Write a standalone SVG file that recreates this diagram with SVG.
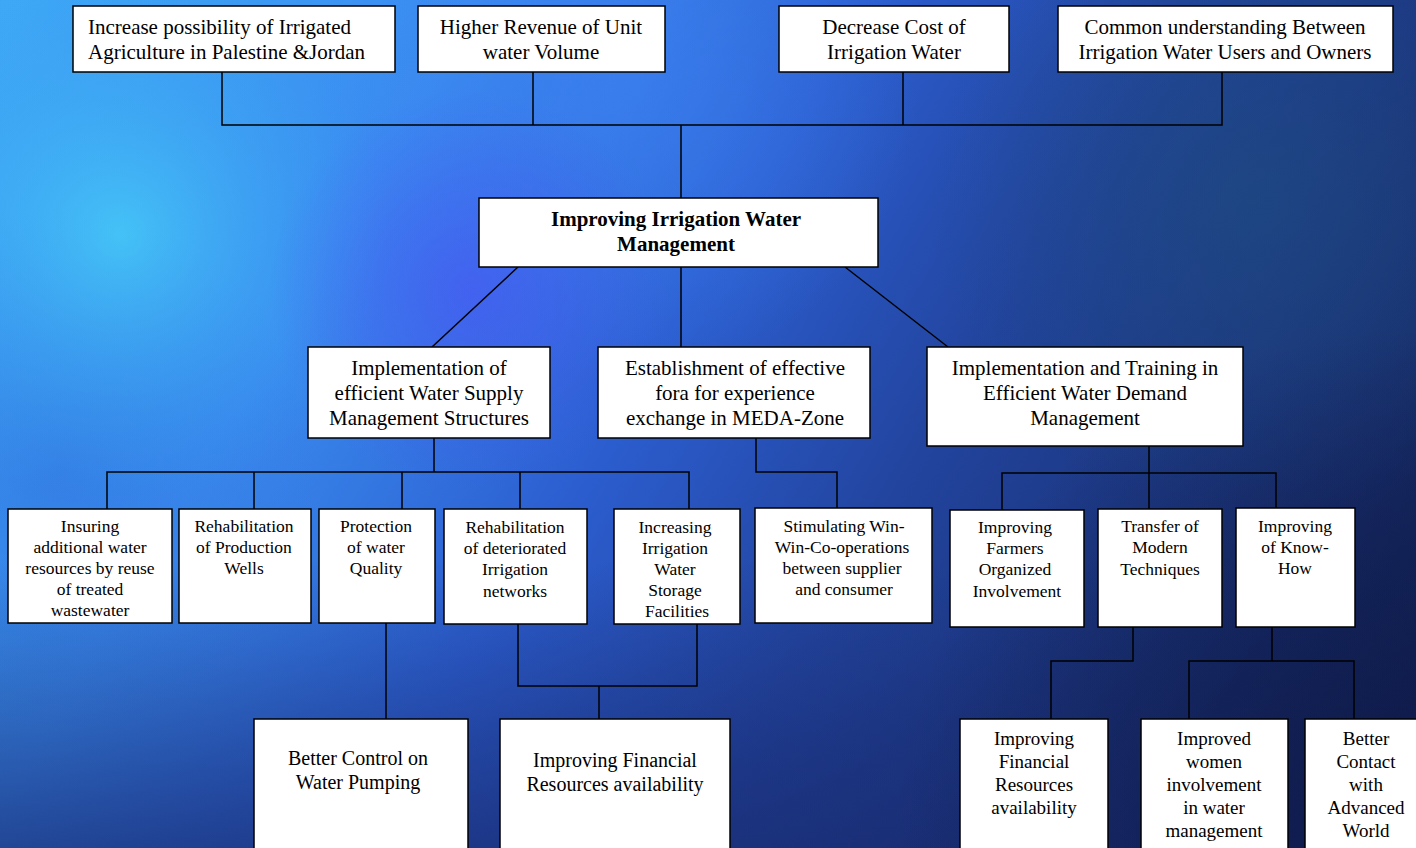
<svg xmlns="http://www.w3.org/2000/svg" width="1416" height="848" viewBox="0 0 1416 848">
<defs>
<linearGradient id="bgbase" x1="0" y1="0" x2="1416" y2="848" gradientUnits="userSpaceOnUse">
<stop offset="0" stop-color="#3ea8f6"/>
<stop offset="0.25" stop-color="#3a8cf0"/>
<stop offset="0.45" stop-color="#2c5ed0"/>
<stop offset="0.62" stop-color="#22449e"/>
<stop offset="0.8" stop-color="#1a3276"/>
<stop offset="1" stop-color="#101c4a"/>
</linearGradient>
<radialGradient id="cyan" cx="120" cy="235" r="270" gradientUnits="userSpaceOnUse">
<stop offset="0" stop-color="#48d4f8" stop-opacity="0.7"/>
<stop offset="0.5" stop-color="#40b4f4" stop-opacity="0.4"/>
<stop offset="1" stop-color="#3aa0f0" stop-opacity="0"/>
</radialGradient>
<radialGradient id="violet" cx="470" cy="290" r="200" gradientUnits="userSpaceOnUse">
<stop offset="0" stop-color="#4858f4" stop-opacity="0.7"/>
<stop offset="1" stop-color="#4858f4" stop-opacity="0"/>
</radialGradient>
<radialGradient id="topblue" cx="620" cy="80" r="300" gradientUnits="userSpaceOnUse">
<stop offset="0" stop-color="#3c80f2" stop-opacity="0.7"/>
<stop offset="1" stop-color="#3c80f2" stop-opacity="0"/>
</radialGradient>
<radialGradient id="leftmid" cx="60" cy="470" r="260" gradientUnits="userSpaceOnUse">
<stop offset="0" stop-color="#2f70dc" stop-opacity="0.6"/>
<stop offset="1" stop-color="#2f70dc" stop-opacity="0"/>
</radialGradient>
<radialGradient id="dark" cx="1416" cy="848" r="520" gradientUnits="userSpaceOnUse">
<stop offset="0" stop-color="#0c1640" stop-opacity="0.8"/>
<stop offset="1" stop-color="#0c1640" stop-opacity="0"/>
</radialGradient>
<radialGradient id="teal" cx="1250" cy="200" r="320" gradientUnits="userSpaceOnUse">
<stop offset="0" stop-color="#1e4a80" stop-opacity="0.7"/>
<stop offset="1" stop-color="#1e4a80" stop-opacity="0"/>
</radialGradient>
<linearGradient id="bottom" x1="0" y1="560" x2="0" y2="848" gradientUnits="userSpaceOnUse">
<stop offset="0" stop-color="#182a70" stop-opacity="0"/>
<stop offset="1" stop-color="#182a70" stop-opacity="0.7"/>
</linearGradient>
</defs>
<style>
.box{fill:#ffffff;stroke:#000000;stroke-width:1.5}
.t{font-family:"Liberation Serif","Times New Roman",serif;fill:#000000}
.t21{font-size:21px}
.t20{font-size:20px}
.t19{font-size:19px}
.t18{font-size:17.5px}
.b{font-weight:bold}
.c{text-anchor:middle}
.ln{fill:none;stroke:#000000;stroke-width:1.5}
</style>
<g id="background">
<rect x="0" y="0" width="1416" height="848" fill="url(#bgbase)"/>
<rect x="0" y="0" width="1416" height="848" fill="url(#topblue)"/>
<rect x="0" y="0" width="1416" height="848" fill="url(#leftmid)"/>
<rect x="0" y="0" width="1416" height="848" fill="url(#cyan)"/>
<rect x="0" y="0" width="1416" height="848" fill="url(#violet)"/>
<rect x="0" y="0" width="1416" height="848" fill="url(#teal)"/>
<rect x="0" y="0" width="1416" height="848" fill="url(#bottom)"/>
<rect x="0" y="0" width="1416" height="848" fill="url(#dark)"/>
</g>
<g id="connectors">
<polyline class="ln" points="222,72 222,125 1222,125 1222,72"/>
<line class="ln" x1="533" y1="72" x2="533" y2="125"/>
<line class="ln" x1="903" y1="72" x2="903" y2="125"/>
<line class="ln" x1="681" y1="125" x2="681" y2="198"/>
<line class="ln" x1="518" y1="267" x2="432" y2="347"/>
<line class="ln" x1="681" y1="267" x2="681" y2="347"/>
<line class="ln" x1="845" y1="267" x2="948" y2="347"/>
<line class="ln" x1="434" y1="438" x2="434" y2="472"/>
<polyline class="ln" points="107,509 107,472 689,472 689,509"/>
<line class="ln" x1="254" y1="472" x2="254" y2="509"/>
<line class="ln" x1="402" y1="472" x2="402" y2="509"/>
<line class="ln" x1="520" y1="472" x2="520" y2="509"/>
<polyline class="ln" points="756,438 756,472 837,472 837,508"/>
<line class="ln" x1="1149" y1="446" x2="1149" y2="473"/>
<polyline class="ln" points="1002,510 1002,473 1276,473 1276,508"/>
<line class="ln" x1="1149" y1="473" x2="1149" y2="509"/>
<line class="ln" x1="386" y1="623" x2="386" y2="719"/>
<polyline class="ln" points="518,624 518,686 697,686 697,624"/>
<line class="ln" x1="599" y1="686" x2="599" y2="719"/>
<polyline class="ln" points="1133,627 1133,661 1051,661 1051,719"/>
<line class="ln" x1="1272" y1="627" x2="1272" y2="661"/>
<polyline class="ln" points="1189,719 1189,661 1354,661 1354,719"/>
</g>
<g id="top1">
<rect class="box" x="73" y="6" width="322" height="66"/>
<text class="t t21" x="88" y="34">Increase possibility of Irrigated</text>
<text class="t t21" x="88" y="59">Agriculture in Palestine &amp;Jordan</text>
</g>
<g id="top2">
<rect class="box" x="418" y="6" width="247" height="66"/>
<text class="t t21 c" x="541" y="34">Higher Revenue of Unit</text>
<text class="t t21 c" x="541" y="59">water Volume</text>
</g>
<g id="top3">
<rect class="box" x="779" y="6" width="230" height="66"/>
<text class="t t21 c" x="894" y="34">Decrease Cost of</text>
<text class="t t21 c" x="894" y="59">Irrigation Water</text>
</g>
<g id="top4">
<rect class="box" x="1058" y="6" width="335" height="66"/>
<text class="t t21 c" x="1225" y="34">Common understanding Between</text>
<text class="t t21 c" x="1225" y="59">Irrigation Water Users and Owners</text>
</g>
<g id="center">
<rect class="box" x="479" y="198" width="399" height="69"/>
<text class="t t21 b c" x="676" y="226">Improving Irrigation Water</text>
<text class="t t21 b c" x="676" y="251">Management</text>
</g>
<g id="mid1">
<rect class="box" x="308" y="347" width="242" height="91"/>
<text class="t t21 c" x="429" y="375">Implementation of</text>
<text class="t t21 c" x="429" y="400">efficient Water Supply</text>
<text class="t t21 c" x="429" y="425">Management Structures</text>
</g>
<g id="mid2">
<rect class="box" x="598" y="347" width="272" height="91"/>
<text class="t t21 c" x="735" y="375">Establishment of effective</text>
<text class="t t21 c" x="735" y="400">fora for experience</text>
<text class="t t21 c" x="735" y="425">exchange in MEDA-Zone</text>
</g>
<g id="mid3">
<rect class="box" x="927" y="347" width="316" height="99"/>
<text class="t t21 c" x="1085" y="375">Implementation and Training in</text>
<text class="t t21 c" x="1085" y="400">Efficient Water Demand</text>
<text class="t t21 c" x="1085" y="425">Management</text>
</g>
<g id="s1">
<rect class="box" x="8" y="509" width="164" height="114"/>
<text class="t t18 c" x="90" y="532">Insuring</text>
<text class="t t18 c" x="90" y="553">additional water</text>
<text class="t t18 c" x="90" y="574">resources by reuse</text>
<text class="t t18 c" x="90" y="595">of treated</text>
<text class="t t18 c" x="90" y="616">wastewater</text>
</g>
<g id="s2">
<rect class="box" x="179" y="509" width="132" height="114"/>
<text class="t t18 c" x="244" y="532">Rehabilitation</text>
<text class="t t18 c" x="244" y="553">of Production</text>
<text class="t t18 c" x="244" y="574">Wells</text>
</g>
<g id="s3">
<rect class="box" x="319" y="509" width="116" height="114"/>
<text class="t t18 c" x="376" y="532">Protection</text>
<text class="t t18 c" x="376" y="553">of water</text>
<text class="t t18 c" x="376" y="574">Quality</text>
</g>
<g id="s4">
<rect class="box" x="444" y="509" width="143" height="115"/>
<text class="t t18 c" x="515" y="533">Rehabilitation</text>
<text class="t t18 c" x="515" y="554">of deteriorated</text>
<text class="t t18 c" x="515" y="575">Irrigation</text>
<text class="t t18 c" x="515" y="597">networks</text>
</g>
<g id="s5">
<rect class="box" x="614" y="509" width="126" height="115"/>
<text class="t t18 c" x="675" y="533">Increasing</text>
<text class="t t18 c" x="675" y="554">Irrigation</text>
<text class="t t18 c" x="675" y="575">Water</text>
<text class="t t18 c" x="675" y="596">Storage</text>
<text class="t t18 c" x="677" y="617">Facilities</text>
</g>
<g id="s6">
<rect class="box" x="755" y="508" width="177" height="115"/>
<text class="t t18 c" x="844" y="532">Stimulating Win-</text>
<text class="t t18 c" x="842" y="553">Win-Co-operations</text>
<text class="t t18 c" x="842" y="574">between supplier</text>
<text class="t t18 c" x="844" y="595">and consumer</text>
</g>
<g id="s7">
<rect class="box" x="950" y="510" width="134" height="117"/>
<text class="t t18 c" x="1015" y="533">Improving</text>
<text class="t t18 c" x="1015" y="554">Farmers</text>
<text class="t t18 c" x="1015" y="575">Organized</text>
<text class="t t18 c" x="1017" y="597">Involvement</text>
</g>
<g id="s8">
<rect class="box" x="1098" y="509" width="124" height="118"/>
<text class="t t18 c" x="1160" y="532">Transfer of</text>
<text class="t t18 c" x="1160" y="553">Modern</text>
<text class="t t18 c" x="1160" y="575">Techniques</text>
</g>
<g id="s9">
<rect class="box" x="1236" y="508" width="119" height="119"/>
<text class="t t18 c" x="1295" y="532">Improving</text>
<text class="t t18 c" x="1295" y="553">of Know-</text>
<text class="t t18 c" x="1295" y="574">How</text>
</g>
<g id="b1">
<rect class="box" x="254" y="719" width="214" height="150"/>
<text class="t t20 c" x="358" y="765">Better Control on</text>
<text class="t t20 c" x="358" y="789">Water Pumping</text>
</g>
<g id="b2">
<rect class="box" x="500" y="719" width="230" height="150"/>
<text class="t t20 c" x="615" y="767">Improving Financial</text>
<text class="t t20 c" x="615" y="791">Resources availability</text>
</g>
<g id="b3">
<rect class="box" x="960" y="719" width="148" height="150"/>
<text class="t t19 c" x="1034" y="745">Improving</text>
<text class="t t19 c" x="1034" y="768">Financial</text>
<text class="t t19 c" x="1034" y="791">Resources</text>
<text class="t t19 c" x="1034" y="814">availability</text>
</g>
<g id="b4">
<rect class="box" x="1141" y="719" width="147" height="150"/>
<text class="t t19 c" x="1214" y="745">Improved</text>
<text class="t t19 c" x="1214" y="768">women</text>
<text class="t t19 c" x="1214" y="791">involvement</text>
<text class="t t19 c" x="1214" y="814">in water</text>
<text class="t t19 c" x="1214" y="837">management</text>
</g>
<g id="b5">
<rect class="box" x="1305" y="719" width="130" height="150"/>
<text class="t t19 c" x="1366" y="745">Better</text>
<text class="t t19 c" x="1366" y="768">Contact</text>
<text class="t t19 c" x="1366" y="791">with</text>
<text class="t t19 c" x="1366" y="814">Advanced</text>
<text class="t t19 c" x="1366" y="837">World</text>
</g>
</svg>
